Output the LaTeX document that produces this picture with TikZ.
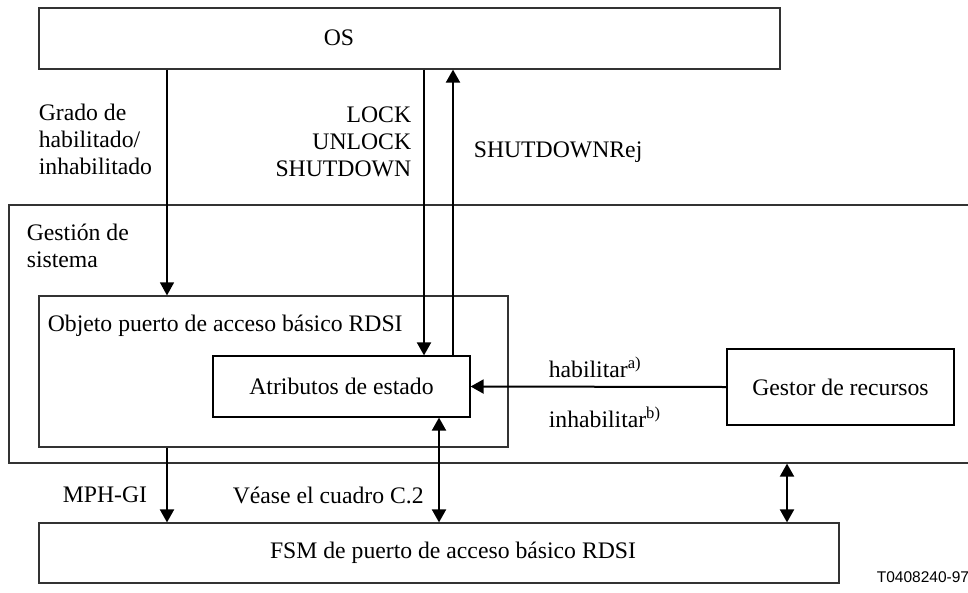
\documentclass[tikz,border=0pt]{standalone}
\usepackage{fontspec}
\setmainfont{Liberation Serif}
\newfontfamily\tagfont{Liberation Sans}
\usetikzlibrary{%
  arrows,%
  arrows.meta,%
  positioning,% wg. " of "
  calc%
}

\begin{document}
\begin{tikzpicture}
  [
  x=1pt, y=-1pt,
  font=\fontsize{23.7}{27}\selectfont, line width=1pt, draw=black,
  >={Triangle[length=13pt,width=14pt]},
  boxnode/.style={rectangle, inner sep = 0pt, draw=black!80, line width=1.2pt},
  blocknode/.style={rectangle, inner sep = 0pt, draw=black, line width=1.2pt},
  sig/.style={line width=2pt},
  ]
  \useasboundingbox (0,0) rectangle (968,592);

  % boxes
  \node[boxnode, minimum width=741pt, minimum height=61pt] (os) at (409.5,38.5) {};
  \node (osl) at (339,38) {OS};
  \node[boxnode, minimum width=981pt, minimum height=258pt] (gsys) at (499.5,334) {};
  \node[boxnode, minimum width=469pt, minimum height=151pt] (obj) at (273.5,371.5) {};
  \node[blocknode, minimum width=257pt, minimum height=61pt] (attr) at (341.5,386.5) {Atributos de estado};
  \node[blocknode, minimum width=227pt, minimum height=76pt] (gestor) at (840.5,387) {Gestor de recursos};
  \node[boxnode, minimum width=800pt, minimum height=60pt] (fsm) at (439,553) {};
  \node (fsml) at (453,553) {FSM de puerto de acceso básico RDSI};

  % texts
  \node[anchor=west, align=left] (gsysl) at (23,246) {Gestión de\\sistema};
  \node[anchor=west] (objl) at (44,326) {Objeto puerto de acceso básico RDSI};
  \node[anchor=west, align=left] (grado) at (35,139) {Grado de\\habilitado/\\inhabilitado};
  \node[anchor=east, align=right] (lock) at (415,142) {LOCK\\UNLOCK\\SHUTDOWN};
  \node[anchor=west] (rej) at (470,152) {SHUTDOWNRej};
  \node[anchor=west] (hab) at (545,367) {habilitar\textsuperscript{a)}};
  \node[anchor=west] (inhab) at (545,417) {inhabilitar\textsuperscript{b)}};
  \node[anchor=west] (mph) at (59,495) {MPH-GI};
  \node[anchor=west] (vease) at (229,495) {Véase el cuadro C.2};
  \node[anchor=west, font=\tagfont\fontsize{15.5}{17}\selectfont] (tag) at (873,577) {T0408240-97};

  % connectors
  \coordinate (xg) at (167,0);
  \coordinate (xl) at (424,0);
  \coordinate (xs) at (453,0);
  \coordinate (xv) at (439,0);
  \coordinate (xr) at (787,0);
  \draw[->, line width=1.2pt] (os.south -| xg) -- (obj.north -| xg);
  \draw[->, sig] (os.south -| xl) -- (attr.north -| xl);
  \draw[->, sig] (attr.north -| xs) -- (os.south -| xs);
  \draw[->, sig] (gestor.west) -- (attr.east);
  \draw[->, sig] (obj.south -| xg) -- (fsm.north -| xg);
  \draw[<->, sig] (attr.south -| xv) -- (fsm.north -| xv);
  \draw[<->, sig] (gsys.south -| xr) -- (fsm.north -| xr);
\end{tikzpicture}
\end{document}
